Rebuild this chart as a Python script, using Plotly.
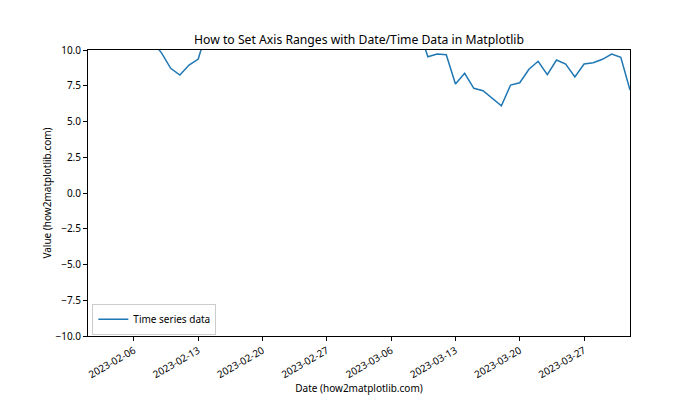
import pandas as pd
import plotly.graph_objects as go

# daily values, 2023-02-01 .. 2023-04-01 (parts above 10 fall outside the y range)
dates = pd.date_range("2023-02-01", "2023-04-01", freq="D")
values = [
    13.2, 12.5, 13.0, 12.1, 11.6, 12.0, 11.2, 10.6, 9.8, 8.72,
    8.25, 8.95, 9.37, 11.5, 12.3, 13.1, 12.6, 13.8, 14.5, 14.0,
    15.2, 15.9, 15.1, 14.6, 15.8, 16.4, 15.7, 14.9, 14.2, 13.6,
    14.1, 13.3, 12.7, 12.9, 12.1, 11.8, 11.4, 9.53, 9.72, 9.67,
    7.62, 8.37, 7.32, 7.15, 6.65, 6.10, 7.55, 7.71, 8.65, 9.21,
    8.27, 9.30, 9.02, 8.11, 9.02, 9.11, 9.35, 9.72, 9.49, 7.20,
]
y_ticks = [-10, -7.5, -5, -2.5, 0, 2.5, 5, 7.5, 10]

font = "Noto Sans"

fig = go.Figure(go.Scatter(
    x=dates, y=values, mode="lines",
    line=dict(color="#1f77b4", width=1.5),
    name="Time series data",
))

axis_common = dict(
    showline=True, linecolor="black", linewidth=1, mirror=True,
    ticks="outside", ticklen=4, tickcolor="black", showgrid=False,
    zeroline=False, automargin=False,
    tickfont=dict(size=10, color="black", family=font),
)

# the page body adds an 8px offset, so margins are shifted to compensate
fig.update_layout(
    width=700, height=420,
    margin=dict(l=80, r=78, t=42, b=92),
    paper_bgcolor="white", plot_bgcolor="white",
    font=dict(family=font, color="black"),
    title=dict(text="How to Set Axis Ranges with Date/Time Data in Matplotlib",
               x=351/700, xanchor="center", y=1 - 32/420, yanchor="middle",
               font=dict(size=12.2, family=font, color="black")),
    xaxis=dict(axis_common, range=["2023-02-01", "2023-04-01"],
               tick0="2023-02-06", dtick=7 * 24 * 3600 * 1000,
               tickformat="%Y-%m-%d", tickangle=-30,
               title=dict(text="Date (how2matplotlib.com)", font=dict(size=10), standoff=4)),
    yaxis=dict(axis_common, range=[-10, 10], tickvals=y_ticks, tickformat=".1f",
               title=dict(text="Value (how2matplotlib.com)", font=dict(size=10), standoff=1)),
    showlegend=True,
    legend=dict(x=0.008, y=0.004, xanchor="left", yanchor="bottom",
                bgcolor="white", bordercolor="#cccccc", borderwidth=1,
                itemwidth=30, tracegroupgap=0,
                font=dict(size=10, family=font, color="black")),
)

fig.write_html("out.html")
